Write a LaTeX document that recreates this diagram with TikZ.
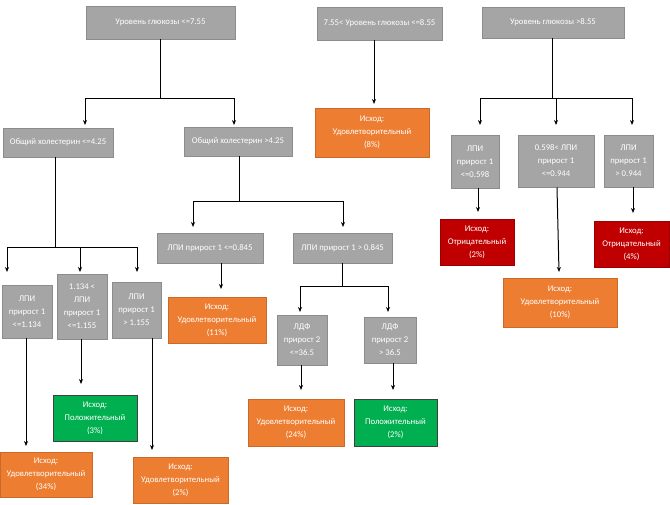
\documentclass[tikz,border=0pt]{standalone}
\usepackage{fontspec}
\setmainfont{Carlito}
\usetikzlibrary{arrows.meta,positioning}
\definecolor{boxgray}{HTML}{A5A5A5}
\definecolor{boxorange}{HTML}{ED7D31}
\definecolor{boxred}{HTML}{C00000}
\definecolor{boxgreen}{HTML}{00B050}

\begin{document}
\begin{tikzpicture}[x=1pt, y=-1pt, >={Stealth[length=5pt,width=4pt]}, line width=1pt,
	box/.style={inner sep=0pt, align=center, text=white, font=\fontsize{8.7}{13}\selectfont, line width=0.8pt},
	gbox/.style={box, fill=boxgray, draw=boxgray!85!black},
	obox/.style={box, fill=boxorange, draw=boxorange!85!black},
	rbox/.style={box, fill=boxred, draw=boxred!80!black},
	pbox/.style={box, fill=boxgreen, draw=black!75}]
	\useasboundingbox (0,0) rectangle (670,505);

	\node[gbox, minimum width=149pt, minimum height=33pt] (g1) at (160.5,22.5) {Уровень глюкозы <=7.55};
	\node[gbox, minimum width=125pt, minimum height=33pt] (g2) at (379.5,23.5) {7.55< Уровень глюкозы <=8.55};
	\node[gbox, minimum width=142pt, minimum height=31pt] (g3) at (553,22.5) {Уровень глюкозы >8.55};

	\node[gbox, minimum width=110pt, minimum height=29pt] (ch1) at (58,142.5) {Общий холестерин <=4.25};
	\node[gbox, minimum width=108pt, minimum height=29pt] (ch2) at (238,141.5) {Общий холестерин >4.25};
	\node[obox, minimum width=114pt, minimum height=49pt] (o8) at (372,132.5) {Исход:\\Удовлетворительный\\(8\%)};

	\node[gbox, minimum width=50pt, minimum height=53pt] (l1) at (27,311.5) {ЛПИ\\прирост 1\\<=1.134};
	\node[gbox, minimum width=50pt, minimum height=65pt] (l2) at (82,306.5) {1.134 <\\ЛПИ\\прирост 1\\<=1.155};
	\node[gbox, minimum width=49pt, minimum height=56pt] (l3) at (136.5,310) {ЛПИ\\прирост 1\\> 1.155};
	\node[gbox, minimum width=106pt, minimum height=30pt] (p1) at (210,248) {ЛПИ прирост 1 <=0.845};
	\node[gbox, minimum width=99pt, minimum height=30pt] (p2) at (342.5,248) {ЛПИ прирост 1 > 0.845};
	\node[obox, minimum width=98pt, minimum height=46pt] (o11) at (217,320) {Исход:\\Удовлетворительный\\(11\%)};
	\node[gbox, minimum width=50pt, minimum height=50pt] (d1) at (302,340) {ЛДФ\\прирост 2\\<=36.5};
	\node[gbox, minimum width=52pt, minimum height=46pt] (d2) at (390,340) {ЛДФ\\прирост 2\\> 36.5};
	\node[obox, minimum width=96pt, minimum height=47pt] (o24) at (296,422.5) {Исход:\\Удовлетворительный\\(24\%)};
	\node[pbox, minimum width=83pt, minimum height=47pt] (q2) at (395.5,422.5) {Исход:\\Положительный\\(2\%)};
	\node[pbox, minimum width=84pt, minimum height=46pt] (q3) at (95,418) {Исход:\\Положительный\\(3\%)};
	\node[obox, minimum width=92pt, minimum height=45pt] (o34) at (46,474.5) {Исход:\\Удовлетворительный\\(34\%)};
	\node[obox, minimum width=95pt, minimum height=46pt] (o2) at (180.5,480) {Исход:\\Удовлетворительный\\(2\%)};

	\node[gbox, minimum width=48pt, minimum height=53pt] (a1) at (475,161.5) {ЛПИ\\прирост 1\\<=0.598};
	\node[gbox, minimum width=76pt, minimum height=52pt] (a2) at (556,161) {0.598< ЛПИ\\прирост 1\\<=0.944};
	\node[gbox, minimum width=49pt, minimum height=52pt] (a3) at (628.5,161) {ЛПИ\\прирост 1\\> 0.944};
	\node[rbox, minimum width=74pt, minimum height=46pt] (r2) at (477,242) {Исход:\\Отрицательный\\(2\%)};
	\node[rbox, minimum width=75pt, minimum height=46pt] (r4) at (631.5,244) {Исход:\\Отрицательный\\(4\%)};
	\node[obox, minimum width=114pt, minimum height=49pt] (o10) at (560,302.5) {Исход:\\Удовлетворительный\\(10\%)};

	\coordinate (k1) at (160.5,99);
	\coordinate (k2) at (55,248);
	\coordinate (k3) at (239,202);
	\coordinate (k4) at (342,287);
	\coordinate (k5) at (552,99);

	\coordinate (t1) at (85,125);
	\coordinate (t2) at (234,125);
	\coordinate (t3) at (7,272);
	\coordinate (t4) at (80,272);
	\coordinate (t5) at (137,272);
	\coordinate (t6) at (193,227);
	\coordinate (t7) at (343,227);
	\coordinate (t8) at (300,312);
	\coordinate (t9) at (388,312);
	\coordinate (t10) at (480,125);
	\coordinate (t11) at (556,125);
	\coordinate (t12) at (632,125);

	\draw (g1.south) -- (k1);
	\draw[->] (k1) -| (t1);
	\draw[->] (k1) -| (t2);
	\draw (ch1.south -| k2) -- (k2);
	\draw[->] (k2) -| (t3);
	\draw[->] (k2) -| (t4);
	\draw[->] (k2) -| (t5);
	\draw (ch2.south -| k3) -- (k3);
	\draw[->] (k3) -| (t6);
	\draw[->] (k3) -| (t7);
	\draw (p2.south -| k4) -- (k4);
	\draw[->] (k4) -| (t8);
	\draw[->] (k4) -| (t9);
	\draw (g3.south -| k5) -- (k5);
	\draw[->] (k5) -| (t10);
	\draw[->] (k5) -| (t11);
	\draw[->] (k5) -| (t12);

	\draw[->] (g2.south -| 374,0) -- (374,104);
	\draw[->] (p1.south -| 221,0) -- (221,289);
	\draw[->] (l1.south -| 26,0) -- (26,446);
	\draw[->] (l2.south -| 81,0) -- (81,384);
	\draw[->] (l3.south -| 152,0) -- (152,450);
	\draw[->] (d1.south -| 301,0) -- (301,390);
	\draw[->] (d2.south -| 393,0) -- (393,390);
	\draw[->] (a1.south -| 478,0) -- (478,212);
	\draw[->] (a2.south -| 557,0) -- (559,272);
	\draw[->] (a3.south -| 633,0) -- (633,213);
\end{tikzpicture}
\end{document}
